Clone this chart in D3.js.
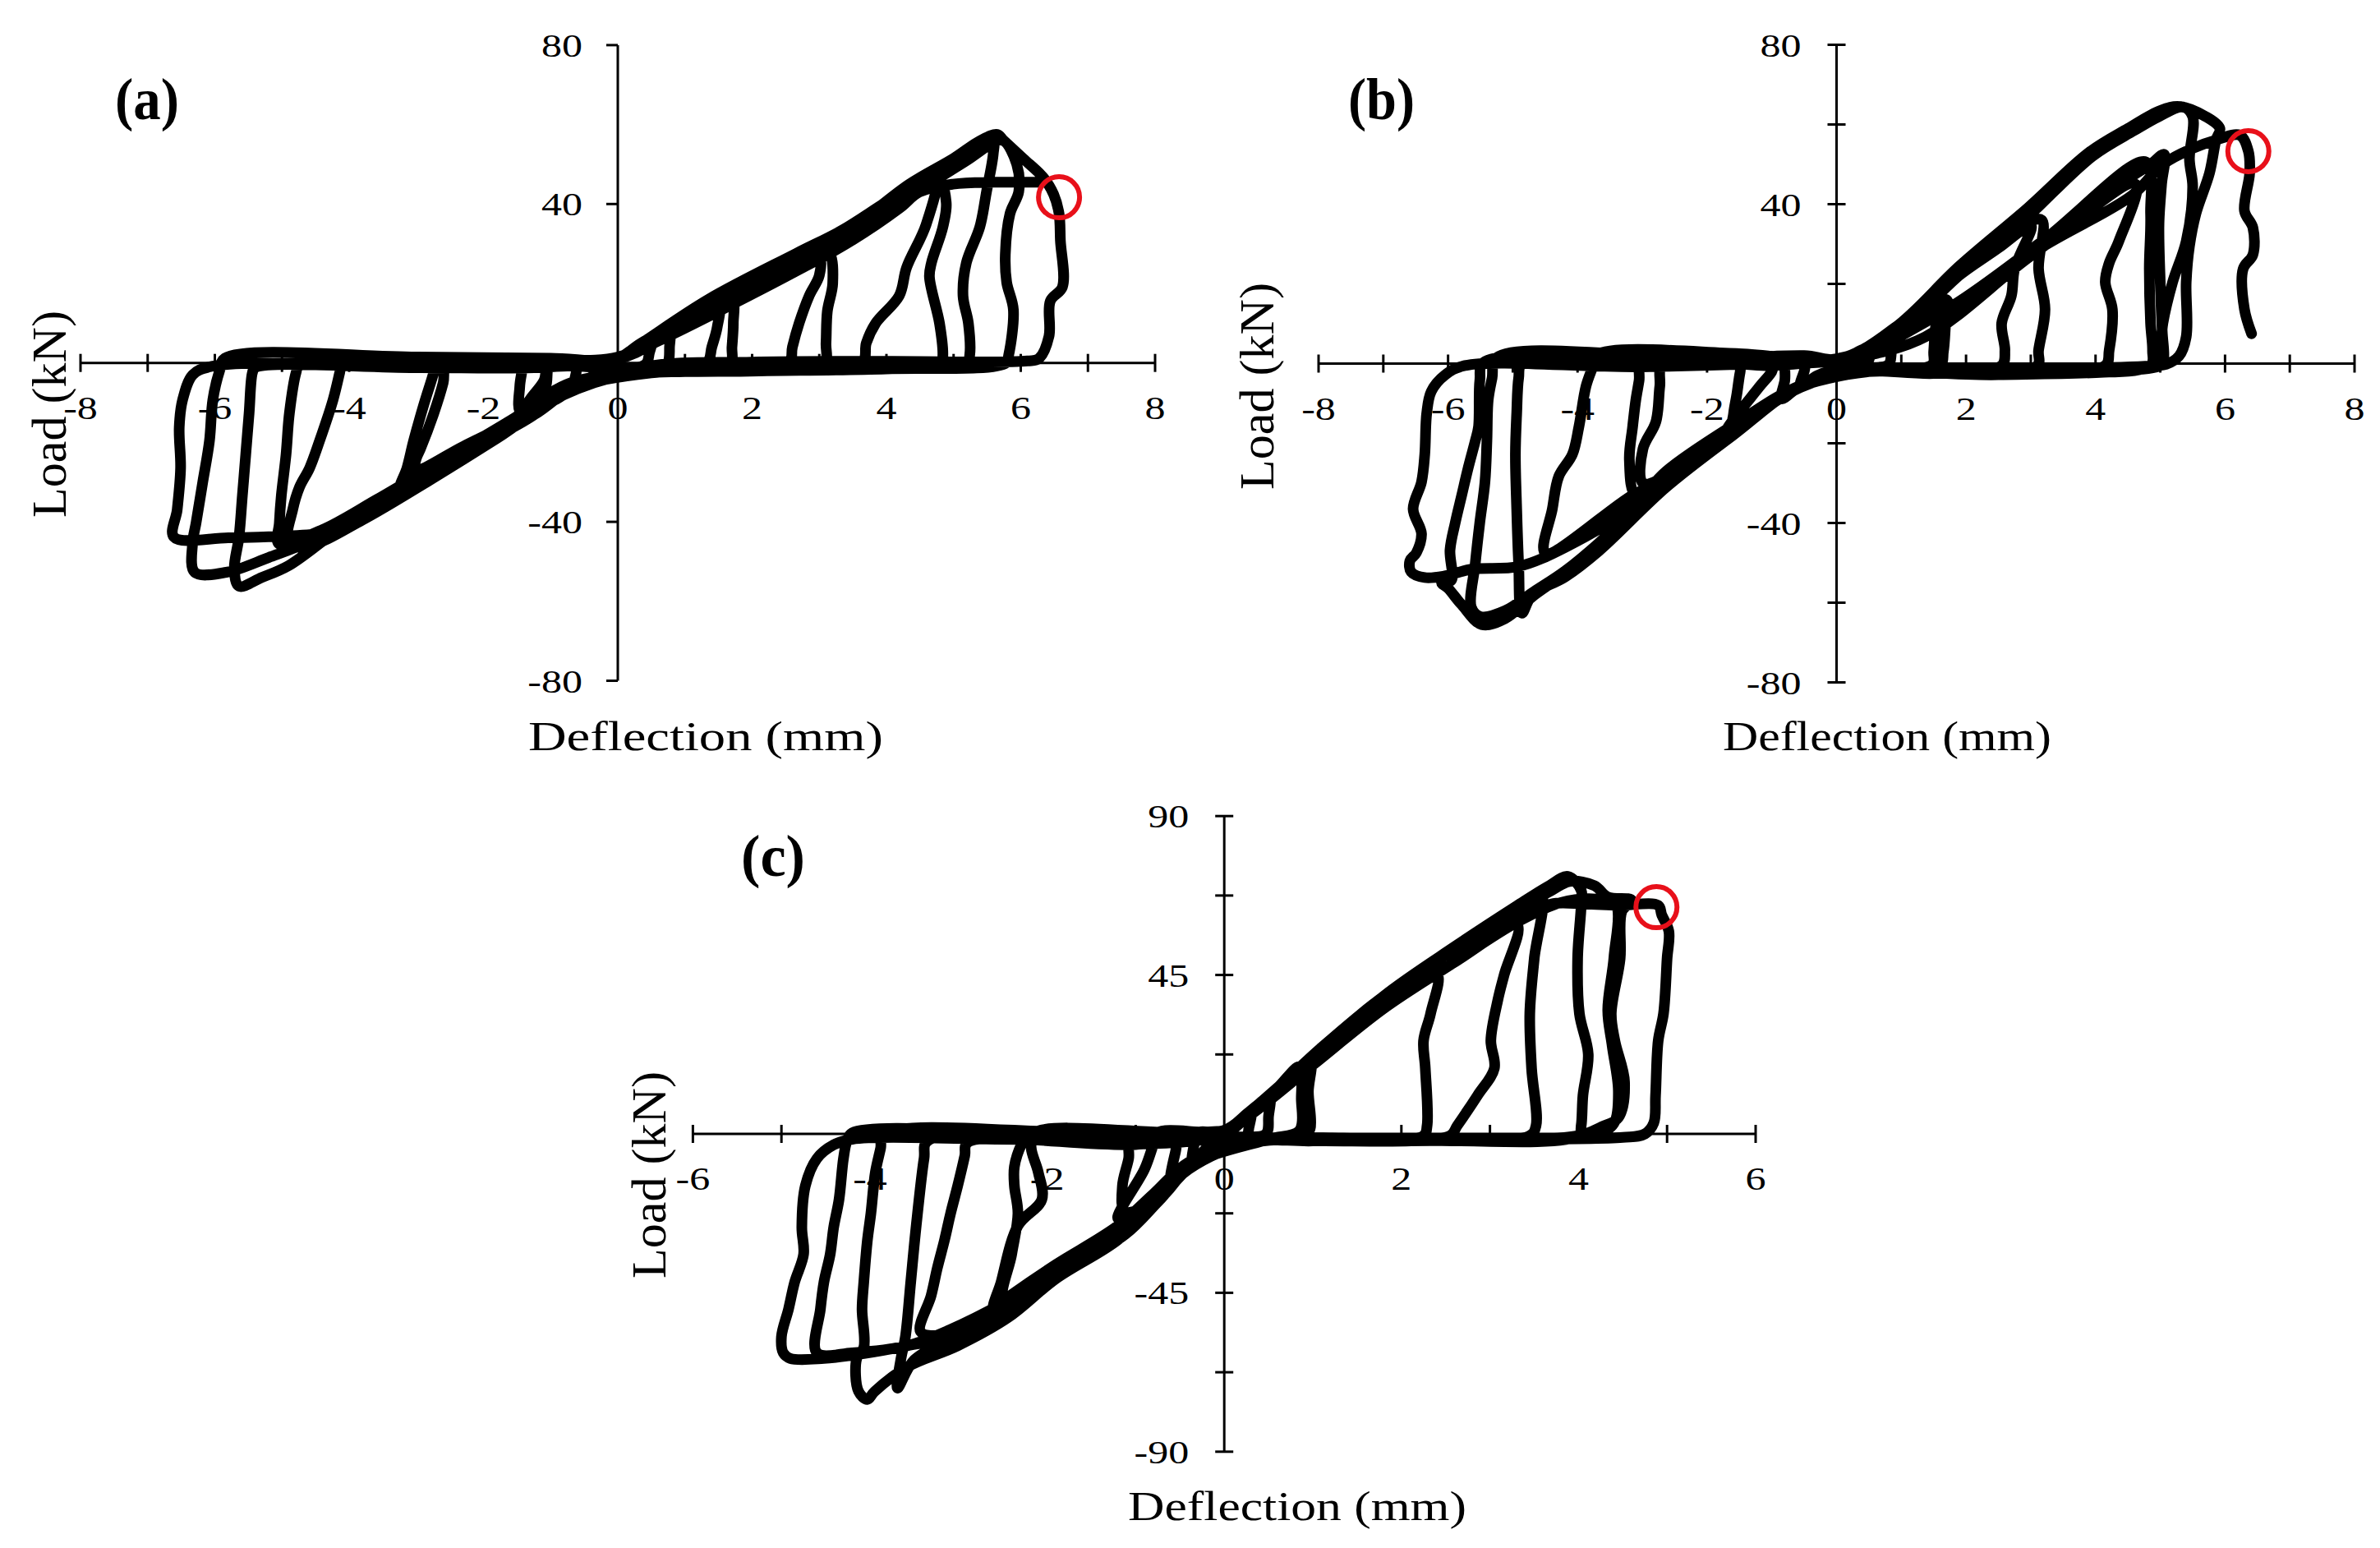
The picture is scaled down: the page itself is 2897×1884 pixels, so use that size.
<!DOCTYPE html>
<html><head><meta charset="utf-8">
<script src="https://cdn.jsdelivr.net/npm/d3@7"></script>
<style>
html,body{margin:0;padding:0;background:#fff;}
svg{display:block;}
text{font-family:"Liberation Serif","Times New Roman",serif;fill:#000;}
</style></head>
<body>
<svg id="chart" width="2897" height="1884"></svg>
<script>
// ---------------- DATA ----------------
// Panel (a): deflection (mm), load (kN) traced in loading order
const curveA = [
  [0,0.5],[0.25,3],[0.5,5.2],[0.47,2.5],[0.43,0],[0.3,-1.2],[0.1,-1.5],
  [-0.3,-2.8],[-0.64,-5.5],[-0.62,-2.4],[-0.6,0.2],[-0.3,0.6],[0,0.8],
  [0.35,5],[0.76,8.3],[0.77,4],[0.74,0],[0.55,-1.5],[0.2,-1.8],
  [-0.6,-5],[-1.1,-9.8],[-1.06,-5],[-1.0,0],[-0.5,-0.8],[0,0.8],
  [0.4,5.5],[0.9,9.5],[1.35,13.8],[1.7,16],[1.72,10],[1.7,4],[1.68,0],[1.3,-1.6],[0.5,-2.2],
  [-0.5,-4.5],[-0.9,-9],[-1.44,-12.5],[-1.46,-6],[-1.43,-2.4],[-1.4,0.3],[-0.7,0.6],[0,1],
  [0.4,5],[1.0,10.5],[1.5,14.5],[1.48,9],[1.4,4],[1.33,0],[0.9,-2],[0.3,-2.5],
  [-0.6,-6],[-1.1,-10.5],[-1.5,-14],[-1.3,-9],[-1.1,-4.5],[-1.02,0],[-0.4,-1],[0,1],
  [0.4,5.5],[0.9,9],[1.35,13],[2.0,18.5],[2.65,24],[3.0,27],[3.15,27.5],[3.2,20],[3.12,13],[3.1,5],[3.08,0],[2.5,-1.2],[1.5,-1.5],[0.5,-2.2],
  [-0.5,-4.5],[-1.24,-13],[-2.24,-22],[-2.9,-28],[-3.24,-31.5],[-3.14,-26.5],[-3.04,-19.6],[-2.89,-10.6],[-2.74,-2.4],[-2.7,0.4],[-1.5,0.5],[-0.5,0.5],[0,1.2],
  [0.5,5.5],[1.3,13],[2.0,19],[2.6,24],[3.0,26.5],[3.0,22],[2.85,16.9],[2.7,10],[2.6,4],[2.55,0],[1.8,-1.4],[0.6,-2],
  [-0.6,-5.5],[-1.3,-12.5],[-2.3,-21],[-3.02,-27],[-3.0,-24],[-2.94,-21.7],[-2.74,-12.7],[-2.6,-5],[-2.54,0],[-1.2,-1],[0,1],
  [0.4,5.5],[1.35,16],[2.65,27.5],[3.35,33.5],[4.0,40.5],[4.5,45.5],[4.75,47.5],[4.59,34.8],[4.3,24],[4.19,16.9],[3.84,10],[3.7,5],[3.64,0],[2.5,-1.8],[1,-2.2],[0.4,-2.5],
  [-0.7,-5],[-1.6,-14.5],[-2.6,-24.5],[-3.6,-34.5],[-4.4,-42],[-4.9,-44.5],[-4.84,-36.9],[-4.74,-31.3],[-4.59,-26.5],[-4.44,-19.6],[-4.24,-9.3],[-4.14,-2.4],[-4.1,0.5],[-2.5,0.3],[-1,0.5],[0,1.5],
  [0.6,6],[1.6,15.5],[2.8,27],[3.6,34.5],[4.3,42],[4.77,46.5],[4.89,40.4],[4.84,34.2],[4.67,25.2],[4.64,21.7],[4.79,10],[4.84,2],[4.82,0],[3,-1.5],[1,-2],[0.3,-2.3],
  [-0.8,-8],[-1.8,-19],[-2.8,-29.5],[-3.8,-39.5],[-4.6,-46],[-5.05,-45.5],[-5.04,-40.3],[-5.01,-33.4],[-4.94,-23.1],[-4.89,-12.7],[-4.79,-2.4],[-4.75,-0.8],[-2,-1],[0,1],
  [0.5,6],[1.35,14],[2.65,25],[3.35,30.8],[4.34,43],[5.0,50.5],[5.34,55],[5.59,57],[5.59,52.6],[5.49,43.1],[5.39,34.2],[5.19,25.2],[5.14,16.9],[5.22,10],[5.24,2],[5.2,0],[3.5,-1.2],[1.5,-1.8],[0.4,-2.2],
  [-0.74,-5.5],[-1.24,-13],[-2.24,-22.3],[-3.24,-32],[-4.24,-43],[-4.9,-51],[-5.3,-54],[-5.64,-56.2],[-5.71,-52],[-5.64,-43.8],[-5.59,-33.4],[-5.54,-23.1],[-5.49,-12.7],[-5.44,-2.4],[-5.4,-1.2],[-3,-1.2],[-1,-1],[0,1.2],
  [0.6,5.5],[1.5,13],[2.7,23.5],[3.5,31],[4.5,43.5],[5.2,51],[5.6,55.5],[5.74,56],[5.94,50],[5.97,43.1],[5.84,37.6],[5.77,27.3],[5.79,20.3],[5.89,13.4],[5.82,2],[5.78,0],[4,-1.5],[2,-2],[0.5,-2.5],
  [-0.8,-7],[-1.8,-17],[-2.8,-27],[-3.8,-37],[-4.6,-45],[-5.2,-49],[-5.83,-52.7],[-6.3,-52.7],[-6.33,-45.2],[-6.28,-40.3],[-6.18,-30],[-6.08,-19.6],[-6.03,-9.3],[-5.93,-2],[-5.85,1.2],[-3,1.5],[-1,1.2],[0,1],
  [0.5,6],[1.35,15.5],[2.65,27],[3.35,32.5],[4.34,45],[5.0,51.5],[5.4,56],[5.65,57.5],[5.74,56.1],[6.04,51.4],[6.34,46.6],[6.49,42.4],[6.57,37.6],[6.59,30.8],[6.62,19.1],[6.44,15.6],[6.42,6.7],[6.27,1.1],[6.1,0.5],[4,0.4],[2,0.2],[0.4,-1],
  [-0.9,-8.5],[-1.9,-19.5],[-2.9,-30],[-3.9,-40],[-4.5,-43],[-4.89,-43.5],[-5.8,-44],[-6.61,-43.8],[-6.56,-36.9],[-6.51,-26.5],[-6.53,-16.2],[-6.48,-9.3],[-6.33,-3],[-6.08,-1],[-4,0],[-1.5,0.3],[0,1],
  [0.6,5.5],[1.5,13.5],[2.6,23],[3.5,31],[4.2,39],[4.49,43],[4.99,45],[5.6,45.5],[6.34,45.5]
];

// Panel (b)
const curveB = [
  [0,0],[0.3,2.5],[0.55,4.5],[0.5,1],[0.45,-0.5],[0.1,-1],
  [-0.3,-3],[-0.56,-5.7],[-0.5,-2],[-0.45,0.3],[0,0.5],
  [0.4,3.5],[0.84,6.7],[0.92,7.8],[0.85,3],[0.8,-0.3],[0.3,-1.2],
  [-0.5,-5],[-0.85,-8.8],[-0.8,-4.3],[-0.75,1.5],[0,0.8],
  [0.5,4],[0.84,6.7],[1.3,12],[1.55,14.5],[1.52,8],[1.5,3],[1.48,-0.2],[0.8,-1.5],[0.2,-1.5],
  [-0.56,-5.7],[-1.1,-11],[-1.6,-16],[-1.59,-12.5],[-1.54,-7.7],[-1.49,-2.2],[-1.45,0.3],[-0.5,2],[0,1],
  [0.5,4],[1.0,9],[1.7,16],[1.68,9],[1.65,3],[1.6,-0.3],[0.5,-1.8],
  [-0.6,-6],[-1.2,-12],[-1.7,-17],[-1.2,-6],[-1.0,-2],[-0.95,0.3],[0,0.8],
  [0.84,6.7],[1.87,21.8],[2.5,29],[2.91,34],[3.01,34.5],[2.75,23.8],[2.70,17],[2.55,10.1],[2.6,3.3],[2.55,-0.5],[1.5,-1.5],[0.3,-1.8],
  [-0.56,-5.7],[-1.6,-17],[-2.63,-28.3],[-3.1,-33],[-3.2,-24.2],[-3.15,-15.9],[-3.1,-9.1],[-3.05,-4.3],[-3.0,1.5],[-1.5,2],[0,1],
  [0.9,8.5],[1.9,23],[2.9,35],[3.17,36],[3.12,23.8],[3.22,13.6],[3.12,3.3],[3.1,-0.5],[1.5,-2.5],[0.3,-2],
  [-0.6,-6],[-1.6,-16.5],[-2.5,-27],[-2.99,-30],[-2.99,-21.4],[-2.79,-14.6],[-2.73,-5.7],[-2.68,0],[-1,-0.5],[0,1],
  [0.3,1.5],[1.37,6.7],[3.0,27],[4.62,45],[4.36,30.7],[4.21,25.2],[4.15,20.4],[4.26,13.6],[4.21,3.3],[4.15,-0.5],[2,-1.8],[0.3,-2],
  [-0.56,-6],[-1.6,-17],[-2.63,-29],[-3.15,-33],[-4.5,-47.5],[-4.39,-36.5],[-4.29,-28.3],[-4.08,-22.8],[-3.98,-15.9],[-3.87,-5.7],[-3.77,-1],[-3.7,2.2],[-1.5,2.5],[0,1],
  [0.84,6.7],[1.77,14.3],[3.2,31],[4.78,50.6],[4.85,37.6],[4.83,23.8],[4.85,10.1],[4.88,3.3],[4.85,-0.5],[2.5,-1.5],[0.4,-2],
  [-0.56,-5.7],[-1.6,-18],[-2.63,-31],[-3.67,-47],[-4.19,-53.5],[-4.7,-58],[-4.86,-62.6],[-4.91,-50.2],[-4.94,-36.5],[-4.96,-22.8],[-4.94,-12.5],[-4.91,-3.6],[-4.85,0.3],[-2,0.6],[0,1.2],
  [0.84,6.7],[1.87,21.8],[2.91,36.2],[3.95,52],[4.6,58.5],[4.98,62],[5.35,64.4],[5.5,62],[5.45,51.3],[5.5,44.4],[5.40,30.7],[5.19,20.4],[5.04,10.1],[4.98,1.2],[4.9,-0.5],[2.5,-2.8],[0.3,-2.2],
  [-0.56,-5.7],[-1.6,-16.5],[-2.63,-29],[-3.67,-45],[-4.19,-52],[-4.7,-57.5],[-5.12,-62],[-5.5,-63.5],[-5.64,-61.2],[-5.58,-50.2],[-5.51,-39.9],[-5.43,-29.7],[-5.4,-19.4],[-5.38,-9.1],[-5.32,-3.6],[-5.25,1.5],[-2.5,1.8],[0,1],
  [0.9,9],[1.9,24.5],[2.95,39],[3.9,53],[4.5,59],[5.0,63.5],[5.3,64.5],[5.7,62],[5.92,59],[5.86,56.1],[5.76,47.8],[5.55,37.6],[5.45,29.4],[5.40,20.4],[5.40,6.7],[5.29,1.9],[5.09,-0.2],[4.93,-0.5],[3,-1.5],[0.5,-2],
  [-0.6,-6],[-1.65,-17],[-2.7,-29.5],[-3.7,-45.5],[-4.19,-52.5],[-4.7,-58.5],[-5.12,-64],[-5.48,-65.5],[-5.79,-60.5],[-6.0,-56.4],[-6.1,-55],[-5.95,-54.4],[-5.97,-46.8],[-5.89,-40],[-5.79,-33.1],[-5.69,-26.2],[-5.58,-19.4],[-5.53,-15.9],[-5.51,-4.3],[-5.45,0.3],[-3,0.6],[0,1],
  [0.3,1.5],[1.37,6.7],[2.9,26.5],[4.47,46],[4.85,50],[5.06,52.5],[5.02,45],[4.98,35],[5.0,20],[5.03,8],[5.05,1],[5.0,-0.5],[2.5,-1.6],[0.4,-2],
  [-0.56,-5.5],[-1.6,-15.5],[-2.63,-27],[-3.15,-35.8],[-4.19,-46.1],[-4.91,-50.9],[-5.64,-51.6],[-6.05,-53.3],[-6.36,-53.7],[-6.57,-52.3],[-6.59,-49.5],[-6.49,-47.5],[-6.41,-42.7],[-6.54,-36.5],[-6.41,-29.7],[-6.36,-22.8],[-6.33,-12.5],[-6.26,-7.0],[-6.05,-2.9],[-5.74,-0.5],[-3,-0.8],[0,1],
  [0.4,2],[1.0,7],[1.77,14.3],[3.2,29.5],[4.57,42.3],[5.04,50],[5.5,54],[5.86,56.1],[6.23,57.3],[6.36,53.3],[6.38,47.8],[6.30,38.3],[6.43,34.1],[6.43,27.3],[6.28,23.8],[6.30,13.6],[6.41,7.5]
];

// Panel (c)
const curveC = [
  [0,0],[0.15,3],[0.3,6],[0.28,2],[0.25,-0.5],[0,-1],
  [-0.2,-4],[-0.36,-8.5],[-0.34,-3],[-0.3,0.3],[0,0.5],
  [0.28,6],[0.51,10.5],[0.5,5],[0.47,0],[0.1,-1.5],
  [-0.36,-8.5],[-0.6,-14],[-0.55,-5],[-0.5,-1],[0,0.8],
  [0.28,6.2],[0.6,12.5],[0.97,20.5],[0.95,12],[0.97,1.5],[0.9,-0.8],[0.3,-1.5],
  [-0.36,-8.5],[-0.74,-18.6],[-1.12,-22],[-1.15,-14.7],[-1.08,-7],[-1.05,-1.5],[0,1],
  [0.3,6.5],[0.6,13],[0.85,19],[0.87,10],[0.85,1],[0.5,-1.5],
  [-0.4,-9],[-0.8,-19],[-1.2,-24],[-0.9,-10],[-0.8,-3],[-0.75,0.3],[0,1],
  [0.28,6.2],[1.04,22.5],[1.8,38.8],[2.4,45.5],[2.33,34.1],[2.25,26.4],[2.27,18.6],[2.29,2.3],[2.25,-0.5],[1,-1.8],[0.2,-2],
  [-0.36,-8.5],[-0.74,-18.6],[-1.12,-27],[-1.87,-39.6],[-2.48,-46],[-2.40,-34.1],[-2.33,-22.5],[-2.37,-14.7],[-2.37,-9.3],[-2.29,-3],[-2.25,-1.5],[-1,-2],[0,0],
  [0.3,6],[1.1,24.5],[1.8,39],[2.56,51.5],[3.0,57],[3.31,59],[3.16,45],[3.09,38],[3.01,26.4],[3.05,18.6],[2.86,10.9],[2.63,2.3],[2.55,-0.5],[1,-2],[0.3,-2.2],
  [-0.4,-9.5],[-0.8,-19.5],[-1.2,-29],[-1.9,-40],[-2.6,-50],[-2.52,-42],[-2.33,-26],[-2.06,-18.6],[-2.10,-10.9],[-2.18,-4],[-2.15,0.3],[0,1],
  [0.28,6],[1.04,22],[1.8,38.5],[2.56,52],[3.31,63.6],[3.58,67.5],[3.50,49.6],[3.45,34.1],[3.47,18.6],[3.52,2.3],[3.45,-0.5],[1.5,-1.5],[0.3,-2],
  [-0.36,-8.5],[-0.74,-18.6],[-1.12,-28],[-1.87,-39.6],[-2.63,-51],[-3.2,-57],[-3.43,-56],[-3.31,-45.8],[-3.24,-38],[-3.16,-30.2],[-3.09,-22.5],[-3.01,-14.7],[-2.93,-6.2],[-2.9,-2.5],[-1,-3],[0,0],
  [0.3,6.5],[1.1,24],[1.85,40],[2.6,53],[3.3,64.5],[3.65,70],[3.88,72.9],[4.03,69],[4.03,64.7],[3.99,49.6],[4.01,34.1],[4.11,22.5],[4.05,10.9],[4.03,2.3],[4.0,-0.5],[2,-1.8],[0.3,-2.5],
  [-0.4,-10],[-0.8,-20],[-1.2,-30],[-1.9,-41],[-2.44,-52],[-3.01,-60],[-3.58,-66],[-3.95,-73],[-4.03,-75.2],[-4.13,-72.9],[-4.15,-63.6],[-4.07,-60.5],[-4.09,-49.6],[-4.07,-41.9],[-4.03,-30.2],[-3.99,-22.5],[-3.94,-10.9],[-3.88,-4],[-3.85,0],[-1.5,0.3],[0,1],
  [0.3,6],[1.04,22.5],[1.8,38.8],[2.56,52],[3.31,63.6],[3.7,69],[3.9,71.5],[4.18,70.3],[4.33,67.1],[4.6,66.2],[4.49,63],[4.47,49.6],[4.37,34.1],[4.41,26.4],[4.52,14.7],[4.45,4.6],[4.26,2],[4.0,-0.5],[2,-2],[0.3,-2.5],
  [-0.36,-9],[-0.74,-19],[-1.12,-28.5],[-1.87,-40],[-2.44,-50],[-3.01,-57.5],[-3.5,-64],[-3.69,-72],[-3.65,-63.6],[-3.60,-57.4],[-3.54,-41.9],[-3.48,-26.4],[-3.39,-7],[-3.35,-2],[-1,-2.5],[0,1],
  [0.3,5.5],[1.0,19.5],[1.8,35.5],[2.56,48],[3.31,60],[3.8,65.5],[4.2,66.5],[4.42,65],[4.4,50],[4.33,35],[4.38,25],[4.45,12],[4.4,3],[4.2,0],[2,-1.5],[0.3,-2],
  [-0.4,-9],[-0.8,-19],[-1.2,-28],[-1.9,-39],[-2.5,-48],[-3.1,-55.5],[-3.58,-60],[-4.2,-62],[-4.6,-62],[-4.56,-49.6],[-4.52,-41.9],[-4.45,-34.1],[-4.41,-26.4],[-4.35,-18.6],[-4.30,-7],[-4.26,-2],[-4.2,0.3],[-2,0.5],[0,1],
  [0.3,6.5],[1.0,21],[1.8,37.5],[2.56,48],[3.31,60.5],[3.69,65.1],[4.07,65.1],[4.45,64.7],[4.9,64.7],[4.94,62],[5.02,57.4],[5.0,49.6],[4.96,34.1],[4.9,26.4],[4.87,10.9],[4.85,3.1],[4.75,0],[4.5,-1],[2,-1.5],[0.3,-2],
  [-0.4,-8],[-0.8,-17],[-1.2,-26],[-1.9,-37],[-2.4,-45.5],[-3.01,-56.8],[-3.58,-60],[-4.07,-62.2],[-4.52,-63.6],[-4.9,-63.6],[-4.98,-62],[-5.0,-57.4],[-4.92,-49.6],[-4.85,-41.9],[-4.75,-34.1],[-4.77,-26.4],[-4.73,-14.7],[-4.6,-7],[-4.41,-3.1],[-4.2,-1.5],[-2,-1.5],[0,0.8]
];

// failure markers (red circles)
const failA = [6.57, 41.7];
const failB = [6.36, 53.3];
const failC = [4.88, 64.2];

// tick values and labels
const xMinorAB = [-8,-7,-6,-5,-4,-3,-2,-1,0,1,2,3,4,5,6,7,8];
const xLabelsAB = [-8,-6,-4,-2,0,2,4,6,8];
const yTicksA = [80,40,0,-40,-80];
const yTicksB = [80,60,40,20,0,-20,-40,-60,-80];
const yLabelsAB = [80,40,-40,-80];
const xMinorC = [-6,-5,-4,-3,-2,-1,0,1,2,3,4,5,6];
const xLabelsC = [-6,-4,-2,0,2,4,6];
const yTicksC = [90,67.5,45,22.5,0,-22.5,-45,-67.5,-90];
const yLabelsC = [90,45,-45,-90];
const panelLabels = ["(a)","(b)","(c)"];
const xTitle = "Deflection (mm)";
const yTitle = "Load (kN)";

// ---------------- DRAW ----------------
const svg = d3.select("#chart");
svg.append("rect").attr("width",2897).attr("height",1884).attr("fill","#fff");

function stretch(sel, k){
  sel.each(function(){
    const w = this.getComputedTextLength();
    d3.select(this).attr("textLength", w*k).attr("lengthAdjust","spacingAndGlyphs");
  });
}

const panels = [
  {label:panelLabels[0], data:curveA, fail:failA, xDom:[-8,8], xR:[98,1406], yDom:[-80,80], yR:[828.5,54.9],
   xMinor:xMinorAB, xLab:xLabelsAB, yT:yTicksA, yLab:yLabelsAB, yTickMode:"left",
   lab:[140,145,78], xt:[859,913,432], yt:[80,504]},
  {label:panelLabels[1], data:curveB, fail:failB, xDom:[-8,8], xR:[1605,2866], yDom:[-80,80], yR:[830.5,54.5],
   xMinor:xMinorAB, xLab:xLabelsAB, yT:yTicksB, yLab:yLabelsAB, yTickMode:"cross",
   lab:[1641,145,81], xt:[2297,913,400], yt:[1550,470]},
  {label:panelLabels[2], data:curveC, fail:failC, xDom:[-6,6], xR:[843.4,2137], yDom:[-90,90], yR:[1766.8,993.2],
   xMinor:xMinorC, xLab:xLabelsC, yT:yTicksC, yLab:yLabelsC, yTickMode:"cross",
   lab:[902,1066,78], xt:[1579,1850,412], yt:[810,1430]}
];

panels.forEach(p=>{
  const x = d3.scaleLinear().domain(p.xDom).range(p.xR);
  const y = d3.scaleLinear().domain(p.yDom).range(p.yR);
  const g = svg.append("g");
  const x0 = x(0), y0 = y(0);
  // axes
  g.append("line").attr("x1",x(p.xDom[0])).attr("x2",x(p.xDom[1])).attr("y1",y0).attr("y2",y0)
    .attr("stroke","#000").attr("stroke-width",3);
  g.append("line").attr("x1",x0).attr("x2",x0).attr("y1",y(p.yDom[0])).attr("y2",y(p.yDom[1]))
    .attr("stroke","#000").attr("stroke-width",3);
  // x ticks
  g.selectAll(null).data(p.xMinor).join("line")
    .attr("x1",d=>x(d)).attr("x2",d=>x(d)).attr("y1",y0-11).attr("y2",y0+11)
    .attr("stroke","#000").attr("stroke-width",3);
  // y ticks
  g.selectAll(null).data(p.yT).join("line")
    .attr("x1",x0-(p.yTickMode==="left"?14:11)).attr("x2",x0+(p.yTickMode==="left"?0:11))
    .attr("y1",d=>y(d)).attr("y2",d=>y(d))
    .attr("stroke","#000").attr("stroke-width",3);
  // x tick labels
  const xl = g.selectAll(null).data(p.xLab).join("text")
    .attr("x",d=>x(d)).attr("y",y0+68).attr("text-anchor","middle")
    .attr("font-size",40).text(d=>String(d));
  stretch(xl,1.25);
  // y tick labels
  const yl = g.selectAll(null).data(p.yLab).join("text")
    .attr("x",x0-43).attr("y",d=>y(d)).attr("dy","0.35em").attr("text-anchor","end")
    .attr("font-size",40).text(d=>String(d));
  stretch(yl,1.25);
  // panel label
  g.append("text").attr("x",p.lab[0]).attr("y",p.lab[1]).attr("font-size",72).attr("font-weight","bold")
    .attr("textLength",p.lab[2]).attr("lengthAdjust","spacingAndGlyphs").text(p.label);
  // axis titles
  g.append("text").attr("x",p.xt[0]).attr("y",p.xt[1]).attr("text-anchor","middle").attr("font-size",50)
    .attr("textLength",p.xt[2]).attr("lengthAdjust","spacingAndGlyphs").text(xTitle);
  g.append("text").attr("transform",`translate(${p.yt[0]},${p.yt[1]}) rotate(-90)`).attr("text-anchor","middle")
    .attr("font-size",60).attr("textLength",252).attr("lengthAdjust","spacingAndGlyphs").text(yTitle);
  // hysteresis curve
  const line = d3.line().x(d=>x(d[0])).y(d=>y(d[1])).curve(d3.curveCatmullRom.alpha(0.5));
  g.append("path").datum(p.data).attr("d",line).attr("fill","none").attr("stroke","#000")
    .attr("stroke-width",13).attr("stroke-linejoin","round").attr("stroke-linecap","round");
  // failure marker
  g.append("circle").attr("cx",x(p.fail[0])).attr("cy",y(p.fail[1])).attr("r",25)
    .attr("fill","none").attr("stroke","#e8101a").attr("stroke-width",6);
});
</script>
</body></html>
